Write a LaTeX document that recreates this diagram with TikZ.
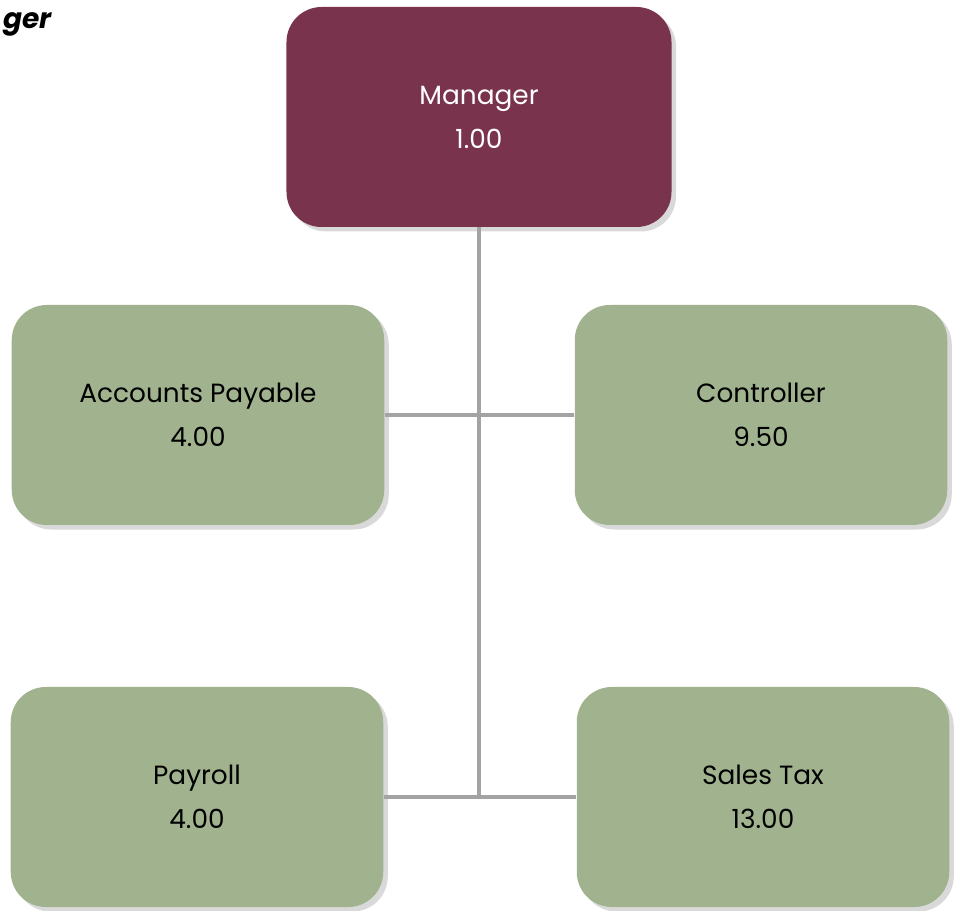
\documentclass[tikz,border=0pt]{standalone}
\usepackage{fontspec}
\setmainfont{Poppins}
\usepackage{tikz}
\usetikzlibrary{shadows}
\usetikzlibrary{positioning}
\definecolor{wine}{HTML}{7A334C}
\definecolor{sage}{HTML}{A0B38E}
\definecolor{link}{HTML}{A3A3A3}
\tikzstyle{unit}=[fill=sage,rounded corners=0.7cm,minimum width=7.45cm,minimum height=4.4cm,align=center,font=\fontsize{15}{25}\selectfont,text=black,drop shadow={opacity=0.3,shadow xshift=0.9mm,shadow yshift=-0.9mm}]
\tikzstyle{head}=[unit,fill=wine,text=white,minimum width=7.7cm]

\begin{document}
\begin{tikzpicture}[x=0.2mm,y=-0.2mm]
\tikzstyle{link}=[draw=link,line width=1.9pt]
\useasboundingbox (0,0) rectangle (955,911);
\node [head] (mgr) at (479,117) {Manager\\1.00};
\node [unit] (ap) at (198,415) {Accounts Payable\\4.00};
\node [unit] (ctl) at (761,415) {Controller\\9.50};
\node [unit] (pay) at (197,797) {Payroll\\4.00};
\node [unit] (tax) at (763,797) {Sales Tax\\13.00};

\node [anchor=west,font=\fontsize{16}{18}\selectfont\bfseries\itshape] (ttl) at (-3,24) {ger};

\draw [link] (mgr.south) -- (mgr.south |- pay.east);
\draw [link] (ap.east) -- (ctl.west);
\draw [link] (pay.east) -- (tax.west);
\end{tikzpicture}
\end{document}
